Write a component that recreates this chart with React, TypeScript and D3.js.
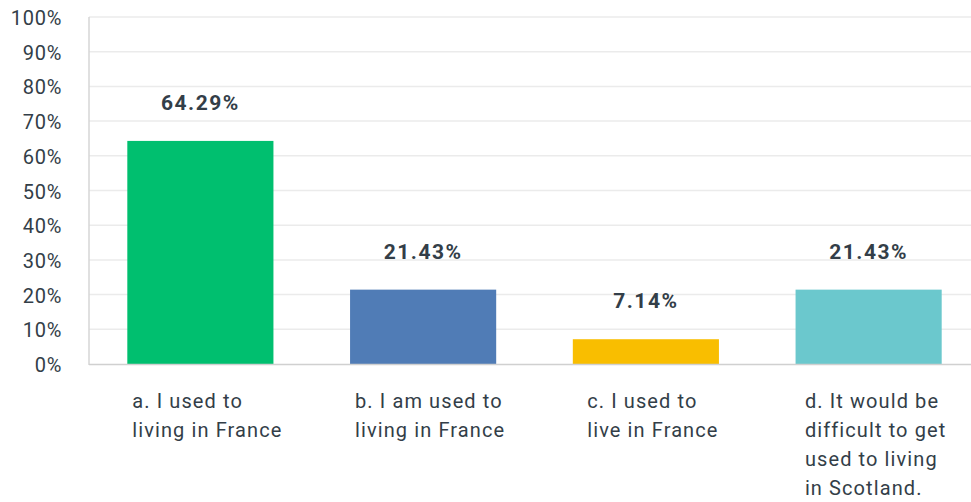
import React, {useEffect, useRef} from "react";
import * as d3 from "d3";

const categories = [
    ["a. I used to", "living in France"],
    ["b. I am used to", "living in France"],
    ["c. I used to", "live in France"],
    ["d. It would be", "difficult to get", "used to living", "in Scotland."],
];
const values = [64.29, 21.43, 7.14, 21.43];
const colors = ["#00bf6f", "#507cb6", "#f9be00", "#6bc8cd"];
const yTicks = [0, 10, 20, 30, 40, 50, 60, 70, 80, 90, 100];

const textColor = "#333e48";
const font = "Roboto, 'Open Sans', sans-serif";

const App = () => {
    const ref = useRef<SVGSVGElement>(null);

    useEffect(() => {
        const svg = d3.select(ref.current);
        svg.selectAll("*").remove();

        const width = 971;
        const left = 89, right = 980, top = 17, bottom = 364;

        const x = d3.scaleBand<number>()
            .domain(values.map((_, i) => i))
            .range([left, right])
            .paddingInner(0.344)
            .paddingOuter(0.172);
        const y = d3.scaleLinear().domain([0, 100]).range([bottom, top]);

        // gridlines
        svg.append("g")
            .selectAll("line")
            .data(yTicks.filter(d => d > 0))
            .join("line")
            .attr("x1", left)
            .attr("x2", width)
            .attr("y1", d => y(d))
            .attr("y2", d => y(d))
            .attr("stroke", "#ebebeb")
            .attr("stroke-width", 1.5);

        // y tick labels
        svg.append("g")
            .selectAll("text")
            .data(yTicks)
            .join("text")
            .attr("x", 62)
            .attr("y", d => y(d) + 1)
            .attr("text-anchor", "end")
            .attr("dominant-baseline", "central")
            .attr("font-family", font)
            .attr("font-size", 20)
            .attr("letter-spacing", 0.7)
            .attr("fill", textColor)
            .text(d => `${d}%`);

        // bars
        svg.append("g")
            .selectAll("rect")
            .data(values)
            .join("rect")
            .attr("x", (_, i) => x(i)!)
            .attr("width", x.bandwidth())
            .attr("y", d => y(d))
            .attr("height", d => bottom - y(d))
            .attr("fill", (_, i) => colors[i]);

        // axes lines
        svg.append("line")
            .attr("x1", left).attr("x2", left)
            .attr("y1", top).attr("y2", bottom + 1)
            .attr("stroke", "#d6d6d6").attr("stroke-width", 1.5);
        svg.append("line")
            .attr("x1", left).attr("x2", width)
            .attr("y1", bottom + 0.5).attr("y2", bottom + 0.5)
            .attr("stroke", "#d0d0d0").attr("stroke-width", 1.5);

        // value labels
        svg.append("g")
            .selectAll("text")
            .data(values)
            .join("text")
            .attr("x", (_, i) => x(i)! + x.bandwidth() / 2)
            .attr("y", d => y(d) - 31)
            .attr("text-anchor", "middle")
            .attr("font-family", font)
            .attr("font-size", 21)
            .attr("font-weight", "bold")
            .attr("letter-spacing", 1.5)
            .attr("fill", textColor)
            .text(d => `${d.toFixed(2)}%`);

        // category labels
        const cat = svg.append("g")
            .selectAll("text")
            .data(categories)
            .join("text")
            .attr("font-family", font)
            .attr("font-size", 20)
            .attr("letter-spacing", 1.1)
            .attr("fill", textColor);
        cat.selectAll("tspan")
            .data(d => d)
            .join("tspan")
            .attr("x", 0)
            .attr("y", (_, j) => 408 + j * 29)
            .text(d => d);
        cat.attr("transform", function (_, i) {
            const w = (this as SVGTextElement).getBBox().width;
            const cx = x(i)! + x.bandwidth() / 2 + 7;
            return `translate(${cx - w / 2}, 0)`;
        });
    }, []);

    return <svg ref={ref} width={971} height={502}
                style={{position: "absolute", left: 0, top: 0, background: "#fff"}}/>;
};

export default App;
